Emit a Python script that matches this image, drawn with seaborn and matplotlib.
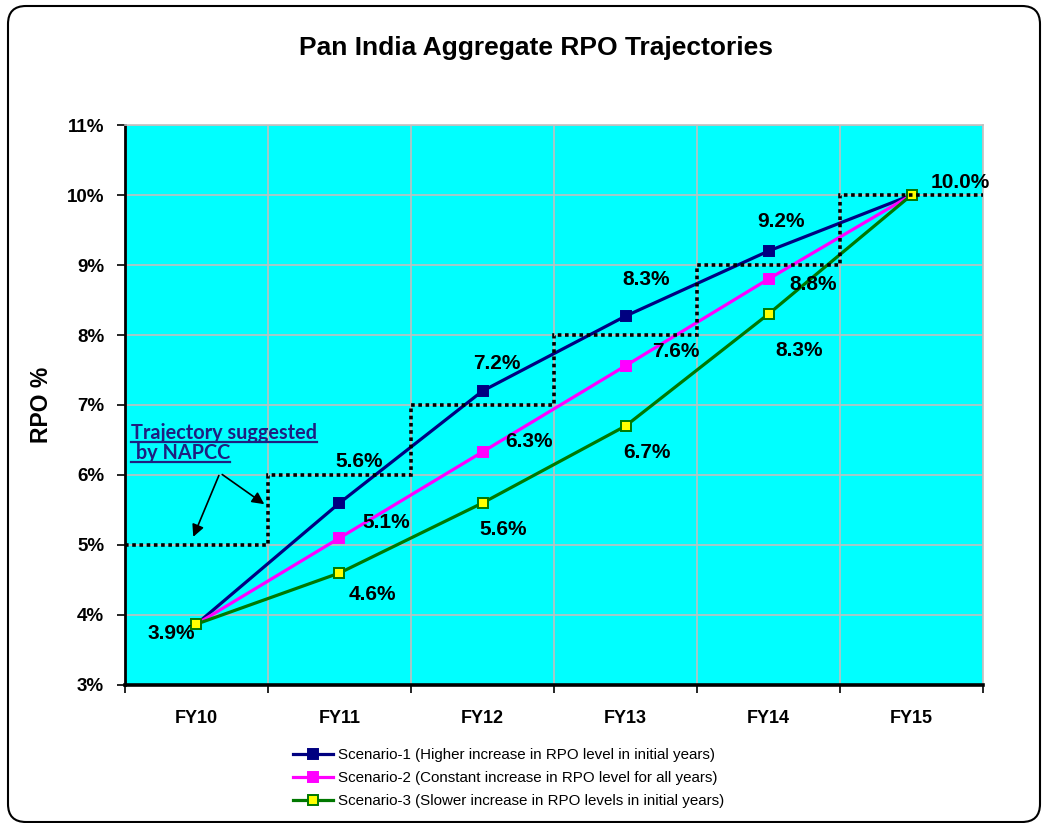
import matplotlib.pyplot as plt
import matplotlib.transforms as mtransforms
import numpy as np
import pandas as pd
import seaborn as sns
from matplotlib.lines import Line2D
from matplotlib.patches import FancyBboxPatch

# ─────────────────────────────────────────────
# Data
# ─────────────────────────────────────────────
years = ["FY10", "FY11", "FY12", "FY13", "FY14", "FY15"]
scenario_1 = [3.87, 5.6, 7.2, 8.27, 9.2, 10.0]
scenario_2 = [3.87, 5.1, 6.33, 7.56, 8.8, 10.0]
scenario_3 = [3.87, 4.6, 5.6, 6.7, 8.3, 10.0]
napcc_target = [5, 6, 7, 8, 9, 10]

scenario_names = [
    "Scenario-1 (Higher increase in RPO level in initial years)",
    "Scenario-2 (Constant increase in RPO level for all years)",
    "Scenario-3 (Slower increase in RPO levels in initial years)",
]
y_ticks = [3, 4, 5, 6, 7, 8, 9, 10, 11]

# label offsets in pixels (None = no label drawn for that point)
label_offsets = [
    [None, (20, 41), (14, 27), (21, 37), (12, 30), (49, 13)],
    [None, (47, 15), (46, 10), (50, 14), (45, -5), None],
    [(-25, -9), (33, -22), (21, -27), (21, -27), (31, -36), None],
]

styles = [
    dict(color="#000080", markerfacecolor="#000080", markeredgecolor="#000080"),
    dict(color="#ff00ff", markerfacecolor="#ff00ff", markeredgecolor="#ff00ff"),
    dict(color="#007800", markerfacecolor="#ffff00", markeredgecolor="#007800"),
]

df = pd.DataFrame(
    {
        "year": years * 3,
        "rpo": scenario_1 + scenario_2 + scenario_3,
        "scenario": np.repeat(scenario_names, len(years)),
    }
)

plt.rcParams["font.family"] = ["Liberation Sans", "DejaVu Sans"]

fig = plt.figure(figsize=(10.45, 8.23), dpi=100)
fig.patch.set_facecolor("white")
ax = fig.add_axes([0.1196, 0.1677, 0.8211, 0.6804])
ax.set_facecolor("#00ffff")

for name, st in zip(scenario_names, styles):
    sns.lineplot(
        data=df[df["scenario"] == name],
        x="year",
        y="rpo",
        ax=ax,
        marker="s",
        markersize=9,
        markeredgewidth=1.4,
        linewidth=2.3,
        label=name,
        legend=False,
        **st,
    )

# NAPCC suggested trajectory (dotted staircase)
ax.stairs(
    napcc_target,
    edges=np.arange(len(years) + 1) - 0.5,
    baseline=None,
    color="black",
    linewidth=2.6,
    linestyle=(0, (1, 1)),
    zorder=5,
)

# data labels
for vals, offs in zip([scenario_1, scenario_2, scenario_3], label_offsets):
    for i, (v, off) in enumerate(zip(vals, offs)):
        if off is None:
            continue
        ax.annotate(
            f"{v:.1f}%",
            xy=(i, v),
            xytext=off,
            textcoords="offset pixels",
            ha="center",
            va="center",
            fontsize=15,
            fontweight="bold",
            zorder=6,
        )

# axes styling
ax.set_xlim(-0.5, len(years) - 0.5)
ax.set_ylim(3, 11)
ax.set_xticks(range(len(years)))
ax.set_xticklabels(years)
ax.set_xticks(np.arange(len(years) + 1) - 0.5, minor=True)
ax.set_yticks(y_ticks)
ax.set_yticklabels([f"{t}%" for t in y_ticks])
ax.tick_params(axis="x", which="major", length=0, pad=18, labelsize=13)
ax.tick_params(axis="x", which="minor", length=6, width=1.2, direction="out")
ax.tick_params(axis="y", length=6, width=1.2, direction="out", pad=9, labelsize=13.5)
for lab in ax.get_xticklabels() + ax.get_yticklabels():
    lab.set_fontweight("bold")

ax.grid(which="minor", axis="x", color="#c0c0c0", linewidth=1.2)
ax.grid(which="major", axis="y", color="#c0c0c0", linewidth=1.2)
ax.grid(which="major", axis="x", visible=False)
ax.set_axisbelow(True)

ax.spines["left"].set_linewidth(2)
ax.spines["bottom"].set_linewidth(2.6)
for side in ["top", "right"]:
    ax.spines[side].set_color("#c0c0c0")
    ax.spines[side].set_linewidth(1.2)

ax.set_xlabel("")
ax.set_ylabel("RPO %", fontsize=16.5, fontweight="bold", labelpad=10)

# NAPCC note with arrows
note_color = "#1f1f80"
note_lines = ["Trajectory suggested", " by NAPCC"]
note_texts = []
for i, line in enumerate(note_lines):
    t = ax.text(
        -0.46,
        6.51 - i * 0.285,
        line,
        fontsize=14.3,
        fontweight="bold",
        family=["Lato", "DejaVu Sans"],
        color=note_color,
        va="baseline",
        ha="left",
        zorder=6,
    )
    note_texts.append(t)

for tip in [(-0.03, 5.08), (0.49, 5.56)]:
    ax.annotate(
        "",
        xy=tip,
        xytext=(0.164, 6.03),
        arrowprops=dict(arrowstyle="-|>", color="black", lw=1.2, mutation_scale=18),
        zorder=6,
    )

# title and legend
fig.text(
    0.513,
    1 - 48 / 823,
    "Pan India Aggregate RPO Trajectories",
    ha="center",
    va="center",
    fontsize=19,
    fontweight="bold",
)

handles, labels = ax.get_legend_handles_labels()
for h in handles:
    h.set_markersize(7.5)
fig.legend(
    handles,
    labels,
    loc="center",
    bbox_to_anchor=(0.487, 0.0547),
    frameon=False,
    fontsize=10.9,
    handlelength=2.6,
    handletextpad=0.35,
    labelspacing=0.6,
)

# rounded outer border of the chart area
border = FancyBboxPatch(
    (8, 1),
    1032,
    816,
    boxstyle="round,pad=0,rounding_size=18",
    transform=mtransforms.IdentityTransform(),
    facecolor="none",
    edgecolor="black",
    linewidth=1.5,
)
fig.add_artist(border)

# underline the note text (matplotlib has no underline option)
fig.canvas.draw()
renderer = fig.canvas.get_renderer()
for t in note_texts:
    bb = t.get_window_extent(renderer)
    base_y = ax.transData.transform((0, t.get_position()[1]))[1]
    inv = fig.transFigure.inverted()
    (x0, y0), (x1, _) = inv.transform([(bb.x0, base_y - 3), (bb.x1, base_y - 3)])
    fig.add_artist(
        Line2D([x0, x1], [y0, y0], color=note_color, linewidth=1.6, transform=fig.transFigure)
    )

fig.savefig("out.png", dpi=100)
plt.close(fig)
